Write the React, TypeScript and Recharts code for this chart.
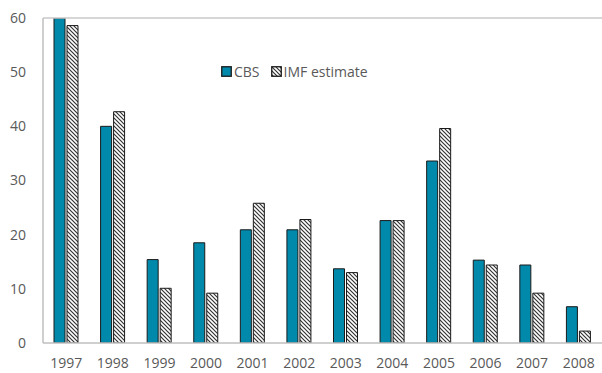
import React from "react";
import {
  BarChart,
  Bar,
  XAxis,
  YAxis,
  Legend,
  ReferenceLine,
} from "recharts";

const years = ["1997", "1998", "1999", "2000", "2001", "2002", "2003", "2004", "2005", "2006", "2007", "2008"];
const cbsValues = [60, 40, 15.4, 18.5, 20.9, 20.9, 13.7, 22.6, 33.6, 15.3, 14.4, 6.7];
const imfValues = [58.6, 42.7, 10.1, 9.2, 25.8, 22.8, 13.0, 22.6, 39.6, 14.4, 9.2, 2.2];
const yTicks = [0, 10, 20, 30, 40, 50, 60];
// category boundaries, drawn as small tick marks on the baseline
const boundaryTicks = [1, 2, 3, 4, 5, 6, 7, 8, 9, 10, 11];

const data = years.map((year, i) => ({ year, cbs: cbsValues[i], imf: imfValues[i] }));

const FONT = "'Open Sans', 'DejaVu Sans', sans-serif";
const TEXT = "#595959";
const AXIS = "#bfbfbf";
const TEAL = "#0089ab";

const LegendContent = ({ payload }: any) => (
  <div style={{ display: "flex", alignItems: "center", fontFamily: FONT, fontSize: 14, color: TEXT }}>
    {(payload || []).map((p: any, i: number) => (
      <div key={p.value} style={{ display: "flex", alignItems: "center", marginRight: i === 0 ? 11 : 0 }}>
        <svg width={11} height={11} style={{ marginRight: 2 }}>
          <rect
            x={0.75}
            y={0.75}
            width={9.5}
            height={9.5}
            fill={p.dataKey === "imf" ? "url(#hatch)" : TEAL}
            stroke="#1a1a1a"
            strokeWidth={1.3}
          />
        </svg>
        <span>{p.value}</span>
      </div>
    ))}
  </div>
);

export default function App() {
  return (
    <div style={{ position: "fixed", left: 0, top: 0, width: 602, height: 373, background: "#fff" }}>
      <BarChart
        width={602}
        height={373}
        data={data}
        margin={{ top: 18, right: 0, bottom: 0, left: 0 }}
        barSize={11}
        barGap={2}
      >
        <defs>
          <pattern id="hatch" patternUnits="userSpaceOnUse" width={4} height={4}>
            <rect width={4} height={4} fill="#fff" />
            <path d="M-1,-1 L5,5 M3,-1 L5,1 M-1,3 L1,5" stroke="#333" strokeWidth={1.2} />
          </pattern>
        </defs>
        <XAxis
          xAxisId="bounds"
          type="number"
          domain={[0, 12]}
          allowDataOverflow
          ticks={boundaryTicks}
          height={0}
          axisLine={false}
          tickLine={{ stroke: AXIS, strokeWidth: 1.5 }}
          tickSize={-4}
          tickFormatter={() => ""}
        />
        <XAxis
          dataKey="year"
          height={30}
          axisLine={{ stroke: AXIS, strokeWidth: 1.5 }}
          tickLine={false}
          tickSize={0}
          tickMargin={15}
          tick={{ fontSize: 14, fill: TEXT, fontFamily: FONT }}
          interval={0}
        />
        <YAxis
          width={43}
          domain={[0, 60]}
          ticks={yTicks}
          allowDataOverflow
          axisLine={{ stroke: AXIS, strokeWidth: 1.5 }}
          tickLine={false}
          tickSize={0}
          tickMargin={17}
          tick={{ fontSize: 14, fill: TEXT, fontFamily: FONT }}
        />
        <ReferenceLine y={60} stroke="#c8c8c8" strokeWidth={1.5} />
        <Legend
          layout="horizontal"
          verticalAlign="middle"
          align="center"
          content={LegendContent}
          wrapperStyle={{ top: 62, left: 221, width: "auto" }}
        />
        <Bar dataKey="cbs" name="CBS" fill={TEAL} stroke="#1a1a1a" strokeWidth={1} isAnimationActive={false} />
        <Bar dataKey="imf" name="IMF estimate" fill="url(#hatch)" stroke="#1a1a1a" strokeWidth={1} isAnimationActive={false} />
      </BarChart>
    </div>
  );
}
